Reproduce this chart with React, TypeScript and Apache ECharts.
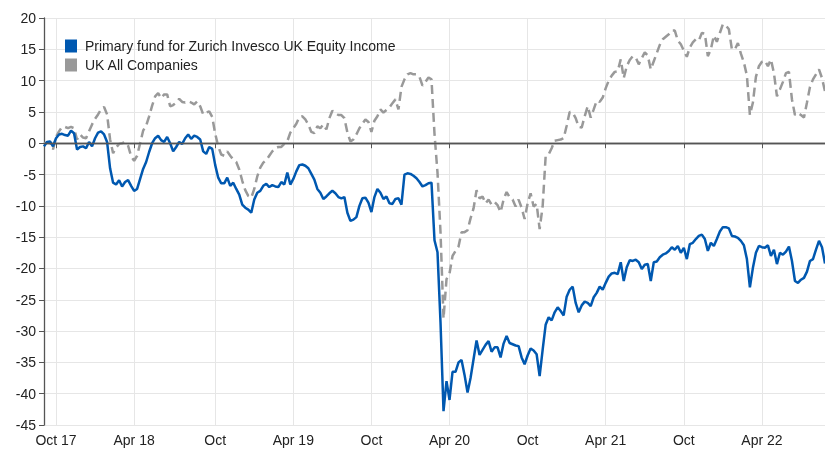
import React, { useEffect, useRef } from "react";
import * as echarts from "echarts";

const startDate = "2017-08-31"; // first weekly observation

const fundName = "Primary fund for Zurich Invesco UK Equity Income";
const sectorName = "UK All Companies";

// weekly cumulative performance (%), primary fund
const fundValues = [
  -0.5, 0.2, 0.3, -0.5, 0.8, 1.4, 1.5, 1.3, 1.2, 2.0,
  1.6, -1.0, -0.6, -0.5, -0.8, 0.2, -0.5, 0.8, 1.7, 1.9,
  1.4, 0.2, -4.0, -6.3, -6.6, -5.9, -6.9, -6.2, -5.9, -6.8,
  -7.6, -7.3, -5.7, -4.1, -3.0, -1.4, 0.0, 0.8, 1.2, 0.5,
  0.2, 1.0, 0.0, -1.3, -0.6, 0.2, -0.1, 0.8, 1.4, 0.7,
  1.2, 1.0, 0.6, -1.3, -1.7, -0.6, -0.9, -3.5, -5.5, -6.4,
  -6.4, -5.5, -6.8, -6.3, -7.3, -8.2, -9.8, -10.3, -10.6, -11.1,
  -9.0, -7.9, -7.6, -6.8, -6.5, -7.0, -6.7, -6.9, -7.0, -6.2,
  -6.6, -4.7, -6.6, -5.7, -4.5, -3.5, -3.4, -3.6, -4.0, -4.9,
  -5.8, -7.3, -7.9, -8.9, -8.5, -8.0, -7.6, -8.0, -8.6, -8.8,
  -8.6, -11.1, -12.4, -12.2, -11.8, -10.0, -8.8, -8.7, -9.5, -11.0,
  -8.6, -7.3, -7.9, -8.9, -8.5, -9.6, -9.7, -8.9, -8.8, -9.8,
  -5.0, -4.8, -4.9, -5.2, -5.6, -6.2, -6.9, -6.7, -6.4, -6.3,
  -15.5, -17.4, -28.6, -42.8, -38.0, -41.0, -36.5, -36.5, -35.0, -34.6,
  -37.0, -39.8, -37.5, -34.5, -31.5, -33.8, -33.0, -32.2, -31.6, -33.3,
  -32.6, -32.6, -34.2, -32.0, -30.8, -31.9, -32.1, -32.3, -32.4, -34.2,
  -35.3, -33.9, -32.8, -33.1, -33.7, -37.2, -33.0, -29.0, -27.8, -28.3,
  -27.0, -26.2, -26.8, -27.5, -24.5, -23.4, -22.9, -25.5, -27.0, -25.9,
  -25.3, -25.5, -26.0, -24.6, -23.9, -22.9, -23.4, -22.3, -21.3, -20.8,
  -20.7, -20.9, -19.0, -22.0, -19.8, -18.7, -18.8, -18.6, -19.0, -20.1,
  -19.4, -19.3, -22.0, -19.0, -18.9, -18.2, -17.8, -17.6, -17.2, -16.6,
  -17.0, -16.4, -17.5, -16.7, -18.5, -16.1, -15.9, -15.3, -14.8, -14.6,
  -15.3, -17.2, -15.9, -16.4, -15.3, -14.1, -13.4, -13.4, -13.6, -14.8,
  -14.9, -15.1, -15.6, -16.3, -18.5, -23.0, -19.9, -17.5, -16.4, -16.6,
  -16.7, -16.3, -18.0, -17.0, -19.3, -17.5, -17.8, -17.3, -16.5, -18.8,
  -22.0, -22.3, -21.8, -21.5, -20.5, -18.8, -18.5, -17.0, -15.6, -16.6,
  -19.2,
];

// weekly cumulative performance (%), sector
const sectorValues = [
  0.0, 0.1, 0.2, -1.0, 1.0, 1.9, 2.6, 2.6, 2.4, 2.6,
  2.4, 0.6, 1.4, 0.9, 0.8, 1.9, 3.0, 3.9, 4.6, 5.4,
  5.8, 4.6, 0.6, -1.6, -0.7, -0.1, 0.0, 0.2, -0.4, -2.1,
  -2.8, -2.0, 0.0, 2.0, 2.8, 4.3, 6.0, 7.5, 8.0, 7.2,
  7.8, 7.8, 5.9, 6.1, 6.5, 7.1, 6.6, 6.5, 6.7, 6.5,
  6.2, 6.7, 5.9, 4.6, 4.9, 5.1, 4.2, 1.5, -0.5, -1.8,
  -2.0, -1.3, -2.0, -2.6, -3.0, -4.2, -6.0, -7.5, -8.4, -8.7,
  -7.3, -5.3, -3.9, -3.1, -2.7, -2.0, -1.3, -0.8, -0.6, -0.6,
  -0.1, 0.3, 1.7, 2.4, 3.1, 4.2, 4.3, 3.8, 3.0, 1.8,
  1.6, 2.7, 2.4, 3.0, 2.2, 4.0, 5.2, 4.8, 4.5, 4.5,
  4.0, 1.7, 0.3, 0.6, 1.4, 2.4, 3.1, 3.8, 3.4, 1.8,
  3.6, 4.3, 5.4, 4.9, 5.3, 5.7, 6.4, 7.0, 5.4, 9.0,
  10.2, 11.0, 11.2, 11.0, 11.0, 10.6, 9.2, 9.8, 10.5, 10.2,
  1.5, -4.7, -14.2, -28.0, -21.7, -20.8, -18.0, -17.2, -16.5, -14.2,
  -14.2, -13.9, -12.0, -10.4, -7.5, -8.8, -8.5, -9.6, -9.0, -9.8,
  -9.4, -9.9, -11.0, -9.0, -7.8, -8.6, -9.0, -10.1, -9.0, -10.3,
  -12.1, -9.6, -8.0, -10.1, -9.7, -13.7, -10.1, -2.1, -1.8, -0.8,
  0.4, 0.5, 0.6, 0.8, 2.8, 5.0, 4.9, 4.0, 2.6, 2.5,
  4.3, 5.9, 4.1, 5.4, 6.8, 6.6, 7.3, 8.8, 10.0, 10.8,
  11.4, 11.5, 13.4, 10.4, 12.3, 13.3, 13.9, 13.7, 12.6, 13.6,
  14.5, 14.0, 11.8, 13.1, 14.4, 15.7, 16.6, 17.0, 17.4, 18.0,
  18.0, 16.4, 15.8, 14.8, 13.8, 15.3, 16.1, 16.6, 16.4, 17.6,
  17.5, 13.9, 15.0, 17.2, 16.2, 17.6, 19.0, 18.8, 18.2, 15.0,
  15.0, 16.0, 14.3, 12.9, 10.8, 4.5, 6.5, 10.6, 12.3, 13.0,
  13.2, 12.3, 13.4, 11.2, 7.5, 8.6, 9.8, 11.2, 11.4, 7.0,
  4.5, 4.8, 4.5, 4.1, 6.5, 9.0, 10.2, 11.0, 11.8, 10.4,
  8.3,
];

const tickDates = [
  "2017-10-01", "2018-04-01", "2018-10-01", "2019-04-01", "2019-10-01",
  "2020-04-01", "2020-10-01", "2021-04-01", "2021-10-01", "2022-04-01",
];
const tickLabels = ["Oct 17", "Apr 18", "Oct", "Apr 19", "Oct", "Apr 20", "Oct", "Apr 21", "Oct", "Apr 22"];

const yMin = -45;
const yMax = 20;
const yStep = 5;

export default function App() {
  const ref = useRef<HTMLDivElement>(null);
  useEffect(() => {
    if (!ref.current) return;
    const chart = echarts.init(ref.current, null, { renderer: "svg" });
    const t0 = Date.parse(startDate);
    const day = 86400000;
    const times = fundValues.map((_, i) => t0 + i * 7 * day);
    const categories = times.map((t) => new Date(t).toISOString().slice(0, 10));
    const tickIndex = new Map<number, string>();
    tickDates.forEach((td, k) => {
      const target = Date.parse(td);
      let best = 0;
      times.forEach((t, i) => {
        if (Math.abs(t - target) < Math.abs(times[best] - target)) best = i;
      });
      tickIndex.set(best, tickLabels[k]);
    });
    const isTick = (i: number) => tickIndex.has(i);
    const font = "'Liberation Sans', Arial, sans-serif";

    chart.setOption({
      animation: false,
      textStyle: { fontFamily: font },
      grid: { left: 44, right: 0, top: 18, bottom: 27, containLabel: false },
      legend: {
        orient: "vertical",
        left: 60,
        top: 34,
        itemWidth: 12,
        itemHeight: 13,
        itemGap: 5,
        icon: "rect",
        textStyle: { fontSize: 14, color: "#222", fontFamily: font, padding: [0, 0, 0, 3] },
        data: [fundName, sectorName],
      },
      xAxis: {
        type: "category",
        data: categories,
        boundaryGap: false,
        axisLine: { show: true, lineStyle: { color: "#555", width: 1.3 } },
        axisTick: { show: true, interval: (i: number) => isTick(i), length: 5, lineStyle: { color: "#555" } },
        axisLabel: {
          interval: (i: number) => isTick(i),
          formatter: (_v: string, i: number) => tickIndex.get(i) ?? "",
          fontSize: 14,
          color: "#222",
          margin: 8,
          fontFamily: font,
        },
        splitLine: { show: true, interval: (i: number) => isTick(i), lineStyle: { color: "#e6e6e6", width: 1 } },
      },
      yAxis: {
        type: "value",
        min: yMin,
        max: yMax,
        interval: yStep,
        axisLine: { show: true, lineStyle: { color: "#555", width: 1.3 } },
        axisTick: { show: true, length: 5, lineStyle: { color: "#555" } },
        axisLabel: { fontSize: 14, color: "#222", margin: 8, fontFamily: font },
        splitLine: { show: true, lineStyle: { color: "#e6e6e6", width: 1 } },
      },
      series: [
        {
          name: sectorName,
          type: "line",
          data: sectorValues,
          showSymbol: false,
          symbol: "none",
          z: 2,
          itemStyle: { color: "#999999" },
          lineStyle: { color: "#999999", width: 2.5, type: [9, 5] },
        },
        {
          name: fundName,
          type: "line",
          data: fundValues,
          showSymbol: false,
          symbol: "none",
          z: 3,
          itemStyle: { color: "#0058b0" },
          lineStyle: { color: "#0058b0", width: 2.5 },
          markLine: {
            silent: true,
            symbol: "none",
            label: { show: false },
            lineStyle: { color: "#555", width: 1.3, type: "solid" },
            data: [{ yAxis: 0 }],
          },
        },
      ],
    });
    return () => chart.dispose();
  }, []);
  return <div ref={ref} style={{ position: "fixed", left: 0, top: 0, width: 825, height: 452 }} />;
}
